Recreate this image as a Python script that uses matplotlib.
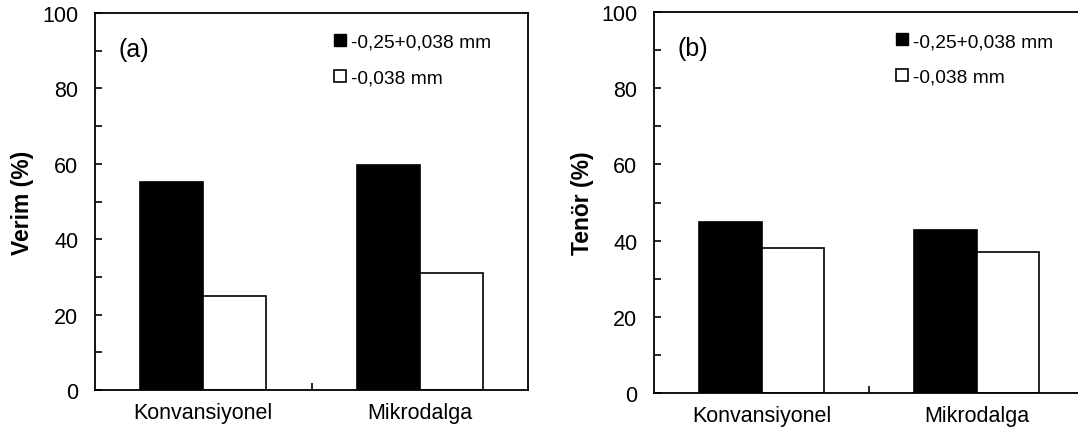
import numpy as np
import matplotlib.pyplot as plt
from matplotlib.lines import Line2D

plt.rcParams['font.family'] = ['Liberation Sans', 'DejaVu Sans']

categories = ['Konvansiyonel', 'Mikrodalga']
series_names = ['-0,25+0,038 mm', '-0,038 mm']

verim_coarse = [55.2, 59.8]
verim_fine = [25.0, 31.0]
tenor_coarse = [45.0, 42.9]
tenor_fine = [38.1, 37.1]

panels = [
    ('(a)', 'Verim (%)', verim_coarse, verim_fine),
    ('(b)', 'Tenör (%)', tenor_coarse, tenor_fine),
]

fig = plt.figure(figsize=(10.78, 4.39), dpi=100)
ax_pos = [
    [95 / 1078, 48 / 439, 433 / 1078, 377 / 439],
    [654 / 1078, 45 / 439, 430 / 1078, 381 / 439],
]
legend_x = [0.525, 0.536]

bar_w = 0.29
x = np.arange(len(categories)) + 0.5

for k, (tag, ylab, coarse, fine) in enumerate(panels):
    ax = fig.add_axes(ax_pos[k])
    ax.bar(x - bar_w / 2, coarse, width=bar_w, color='black', edgecolor='black', linewidth=1.2)
    ax.bar(x + bar_w / 2, fine, width=bar_w, color='white', edgecolor='black', linewidth=1.2)

    ax.set_xlim(0, 2)
    ax.set_ylim(0, 100)

    # y ticks, inward
    ax.set_yticks(np.arange(0, 101, 20))
    ax.set_yticks(np.arange(10, 100, 20), minor=True)
    ax.tick_params(axis='y', which='both', direction='in', length=5, width=1.2,
                   labelsize=15.5, pad=12)

    # x: one tick between groups, labels under groups
    ax.set_xticks([1.0])
    ax.set_xticklabels([''])
    ax.set_xticks(x, minor=True)
    ax.set_xticklabels(categories, minor=True)
    ax.tick_params(axis='x', which='major', direction='in', length=5, width=1.2)
    ax.tick_params(axis='x', which='minor', length=0, labelsize=15.5, pad=9)

    for s in ax.spines.values():
        s.set_linewidth(1.3)

    ax.set_ylabel(ylab, fontsize=16.5, fontweight='bold')
    ax.yaxis.set_label_coords(-0.14, 0.5)

    ax.text(0.055, 0.905, tag, transform=ax.transAxes, fontsize=18, va='center', ha='left')

    handles = [
        Line2D([], [], marker='s', linestyle='none', markerfacecolor='black',
               markeredgecolor='black', markersize=9),
        Line2D([], [], marker='s', linestyle='none', markerfacecolor='white',
               markeredgecolor='black', markersize=9, markeredgewidth=1.2),
    ]
    ax.legend(handles, series_names, loc='upper left', bbox_to_anchor=(legend_x[k], 0.976),
              frameon=False, fontsize=13.8, handlelength=0.6, handletextpad=0.3,
              labelspacing=0.95, borderaxespad=0.2)

fig.savefig('out.png', dpi=100)
